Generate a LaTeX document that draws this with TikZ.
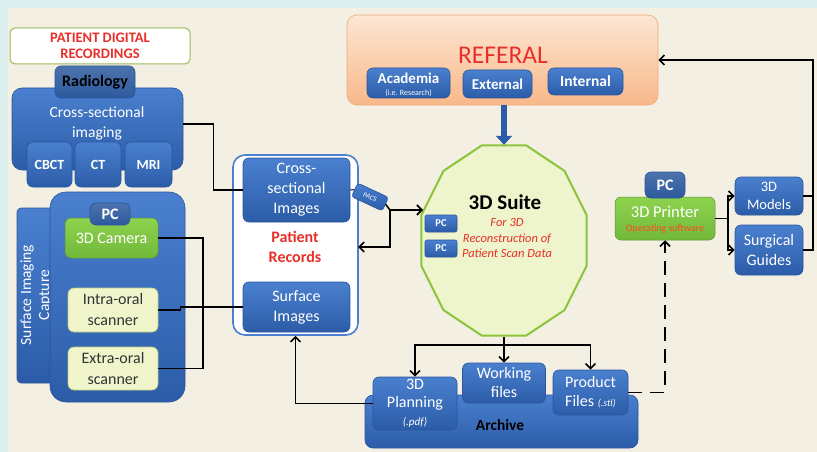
\documentclass[tikz,border=0pt]{standalone}
\usepackage{fontspec}
\setmainfont{Carlito}
\usetikzlibrary{arrows.meta,shapes.geometric,calc}
\definecolor{cyanbg}{HTML}{DCEEED}
\definecolor{beige}{HTML}{F3F0E3}
\definecolor{blueT}{HTML}{4A80CF}
\definecolor{blueB}{HTML}{2C5CA8}
\definecolor{blueD}{HTML}{2A559C}
\definecolor{tabblue}{HTML}{2D5A9E}
\definecolor{recred}{HTML}{E8302A}
\definecolor{olive}{HTML}{9BBB59}
\definecolor{camT}{HTML}{8ED34F}
\definecolor{camB}{HTML}{72B83A}
\definecolor{lyel}{HTML}{F0F5CC}
\definecolor{lyelD}{HTML}{B8CC7A}
\definecolor{suitefill}{HTML}{EEF4CC}
\definecolor{suiteline}{HTML}{8CC43C}
\definecolor{peachT}{HTML}{FDE6D3}
\definecolor{peachB}{HTML}{F8B88A}
\definecolor{peachD}{HTML}{F0A878}
\definecolor{swred}{HTML}{FF4A1A}
\begin{document}
\begin{tikzpicture}[x=1pt,y=-1pt,
  bbox/.style={rectangle,rounded corners=6pt,top color=blueT,bottom color=blueB,draw=blueD,line width=0.6pt,text=white,align=center,inner sep=1pt,font=\fontsize{16}{20}\selectfont},
  tabbox/.style={bbox,top color=tabblue!85!white,bottom color=tabblue,font=\bfseries\fontsize{16}{18}\selectfont},
  greenbox/.style={rectangle,rounded corners=6pt,top color=camT,bottom color=camB,draw=camB!80!black,line width=0.5pt,text=white,align=center,inner sep=1pt,font=\fontsize{16}{18}\selectfont},
  yelbox/.style={rectangle,rounded corners=6pt,fill=lyel,draw=lyelD,line width=0.6pt,text=black!80,align=center,inner sep=1pt,font=\fontsize{16}{21}\selectfont},
  conn/.style={draw=black,line width=1.6pt},
  thinconn/.style={draw=black,line width=1pt},
  arr/.style={conn,-{Straight Barb[length=5pt,width=10pt,line width=1.6pt]}},
  dasharr/.style={conn,dash pattern=on 14pt off 8pt,-{Straight Barb[length=5pt,width=10pt,line width=1.6pt]}}
]
\useasboundingbox (0,0) rectangle (817,452);
\fill[cyanbg] (0,0) rectangle (817,452);
\fill[beige] (8,8) rectangle (817,452);

% ---------- Patient digital recordings ----------
\node[rectangle,rounded corners=5pt,fill=white,draw=olive,line width=1pt,minimum width=180pt,minimum height=36pt,align=center,text=recred,font=\bfseries\fontsize{14.5}{16}\selectfont] (pdr) at (100,46) {PATIENT DIGITAL\\RECORDINGS};

% Radiology group
\node[bbox,rounded corners=10pt,minimum width=171pt,minimum height=82pt] (cross) at (97.5,129) {};
\node[tabbox,text=black,minimum width=80pt,minimum height=32pt] (radio) at (95,82) {Radiology};
\node[text=white,align=center,font=\fontsize{15.5}{20}\selectfont] (crosstxt) at (97,123) {Cross-sectional\\imaging};
\node[bbox,minimum width=45pt,minimum height=45pt,font=\bfseries\fontsize{14}{15}\selectfont] (cbct) at (49.5,164.5) {CBCT};
\node[bbox,minimum width=46pt,minimum height=45pt,font=\bfseries\fontsize{14}{15}\selectfont] (ct) at (98,164.5) {CT};
\node[bbox,minimum width=47pt,minimum height=45pt,font=\bfseries\fontsize{14}{15}\selectfont] (mri) at (148.5,164.5) {MRI};

% Surface imaging capture
\node[bbox,rounded corners=4pt,minimum width=43pt,minimum height=175pt] (strip) at (38.5,295.5) {};
\node[rotate=90,text=white,align=center,font=\fontsize{15.5}{18}\selectfont] (striptxt) at (36,295) {Surface Imaging\\Capture};
\node[bbox,rounded corners=16pt,minimum width=135pt,minimum height=210pt] (sic) at (117.5,297) {};
\node[greenbox,minimum width=93pt,minimum height=40pt] (camera) at (111.5,238) {\raisebox{-3pt}{3D Camera}};
\node[tabbox,minimum width=40pt,minimum height=22pt] (pc1) at (110,214) {PC};
\node[yelbox,minimum width=90pt,minimum height=44pt] (intra) at (113,310) {Intra-oral\\scanner};
\node[yelbox,minimum width=90pt,minimum height=43pt] (extra) at (113,368.5) {Extra-oral\\scanner};

% Patient records
\node[rectangle,rounded corners=12pt,fill=white,draw=blueT,line width=1.6pt,minimum width=125pt,minimum height=180pt] (recbox) at (295.5,245) {};
\node[bbox,minimum width=107pt,minimum height=64pt,font=\fontsize{16}{20}\selectfont] (csimg) at (296.5,190) {Cross-\\sectional\\Images};
\node[text=recred,align=center,font=\bfseries\fontsize{16}{20}\selectfont] (rectxt) at (295,247) {Patient\\Records};
\node[bbox,minimum width=107pt,minimum height=50pt,font=\fontsize{16}{20}\selectfont] (surfimg) at (296.5,307) {Surface\\Images};
\node[bbox,rounded corners=3pt,rotate=-25,minimum width=34pt,minimum height=15pt,font=\fontsize{7}{8}\selectfont] (pacs) at (370,197) {PACS};

% Referal
\node[rectangle,rounded corners=10pt,top color=peachT,bottom color=peachB,draw=peachD,line width=0.6pt,minimum width=311pt,minimum height=90pt] (referal) at (502.5,60) {};
\node[text=recred,font=\fontsize{25.5}{27}\selectfont] (reftxt) at (503,55) {REFERAL};
\node[bbox,minimum width=83pt,minimum height=30pt] (acad) at (408.5,83) {};
\node[text=white,font=\bfseries\fontsize{15}{16}\selectfont] (acadtxt) at (408.5,78) {Academia};
\node[text=white,font=\fontsize{8}{9}\selectfont] (acadsub) at (408.5,93) {(i.e. Research)};
\node[bbox,minimum width=69pt,minimum height=28pt,font=\bfseries\fontsize{15}{16}\selectfont] (ext) at (497.5,84) {External};
\node[bbox,minimum width=75pt,minimum height=27pt,font=\bfseries\fontsize{15.5}{16}\selectfont] (int) at (585.5,81.5) {Internal};

% 3D Suite
\draw[fill=suitefill,draw=suiteline,line width=2pt] plot[samples at={15,45,...,345}] ({504+85.5*cos(\x)},{240.5+98.5*sin(\x)}) -- cycle;
\node[ellipse,minimum width=171pt,minimum height=191pt,inner sep=0pt] (suite) at (504,240.5) {};
\node[font=\bfseries\fontsize{21}{23}\selectfont] (suitetxt) at (505,202) {3D Suite};
\node[text=recred,align=center,font=\itshape\fontsize{12.5}{15.5}\selectfont] (suitesub) at (507,238) {For 3D\\Reconstruction of\\Patient Scan Data};
\node[bbox,rounded corners=2pt,minimum width=32pt,minimum height=17pt,font=\bfseries\fontsize{10.5}{11}\selectfont] (pc2) at (441,223.5) {PC};
\node[bbox,rounded corners=2pt,minimum width=32pt,minimum height=17pt,font=\bfseries\fontsize{10.5}{11}\selectfont] (pc3) at (441,248.5) {PC};

% 3D printer
\node[greenbox,minimum width=100pt,minimum height=43pt] (printer) at (665,218.5) {};
\node[tabbox,minimum width=40pt,minimum height=26pt] (pc4) at (665,185) {PC};
\node[text=white,font=\fontsize{16.5}{18}\selectfont] (prtxt) at (665,212) {3D Printer};
\node[text=swred,font=\fontsize{10}{11}\selectfont] (prsub) at (665,229) {Operating software};
\node[bbox,minimum width=68pt,minimum height=38pt,font=\fontsize{14.5}{18}\selectfont] (models) at (769,196) {3D\\Models};
\node[bbox,minimum width=68pt,minimum height=50pt,font=\fontsize{16}{20}\selectfont] (surg) at (769,250) {Surgical\\Guides};

% Archive
\node[bbox,rounded corners=8pt,minimum width=273pt,minimum height=53pt] (archive) at (501.5,421.5) {};
\node[font=\bfseries\fontsize{15.5}{17}\selectfont] (archtxt) at (500,425) {Archive};
\node[bbox,minimum width=84pt,minimum height=53pt,font=\fontsize{16}{18}\selectfont] (planning) at (415,403.5) {3D\\Planning\\{\itshape\fontsize{11}{13}\selectfont(.pdf)}};
\node[bbox,minimum width=83pt,minimum height=40pt,font=\fontsize{16}{19}\selectfont] (working) at (504,383) {Working\\files};
\node[bbox,minimum width=75pt,minimum height=45pt,font=\fontsize{16}{19}\selectfont] (product) at (590.5,392.5) {Product\\Files {\itshape\fontsize{10}{11}\selectfont(.stl)}};

% Blue arrow Referal -> Suite
\draw[draw=blueB,line width=6pt,-{Triangle[width=16pt,length=9pt]}] (referal.south -| suite.north) -- (suite.north);

% ---------- connectors ----------
\coordinate (suiteW) at (423,210);
\coordinate (pj) at (390,210);
\coordinate (recE) at (358,247);
\coordinate (suiteS) at (504,337);
\coordinate (split) at (504,345);
\coordinate (retTop) at (813,60);

\draw[conn] (cross.east |- 0,124) -- ++(30,0) |- (csimg.west);
\draw[conn] (camera.east) -- ++(45,0) |- (extra.east);
\draw[conn] (intra.east) -- ++(22,0) -- ++(0,-3) -- (surfimg.west |- 0,307);
\draw[thinconn] (csimg.east) -- (pacs.west);
\draw[conn] (pacs.east) -- (pj);
\draw[arr] (pj) -- (suiteW);
\draw[arr] (pj) |- (recE);
\draw[conn] (suiteS) -- (split);
\draw[arr] (split) -- (working.north);
\draw[arr] (split) -| (planning.north);
\draw[arr] (split) -| (product.north);
\draw[arr] (planning.west) -| (recbox.south);
\draw[dasharr] (product.east) -| (printer.south);
\draw[arr] (printer.east) -- ++(13,0) |- (models.west);
\draw[arr] (printer.east) -- ++(13,0) |- (surg.west);
\draw[conn] (models.east) -- (models.east -| retTop);
\draw[arr] (surg.east) -| (retTop) -- (referal.east);
\end{tikzpicture}
\end{document}
